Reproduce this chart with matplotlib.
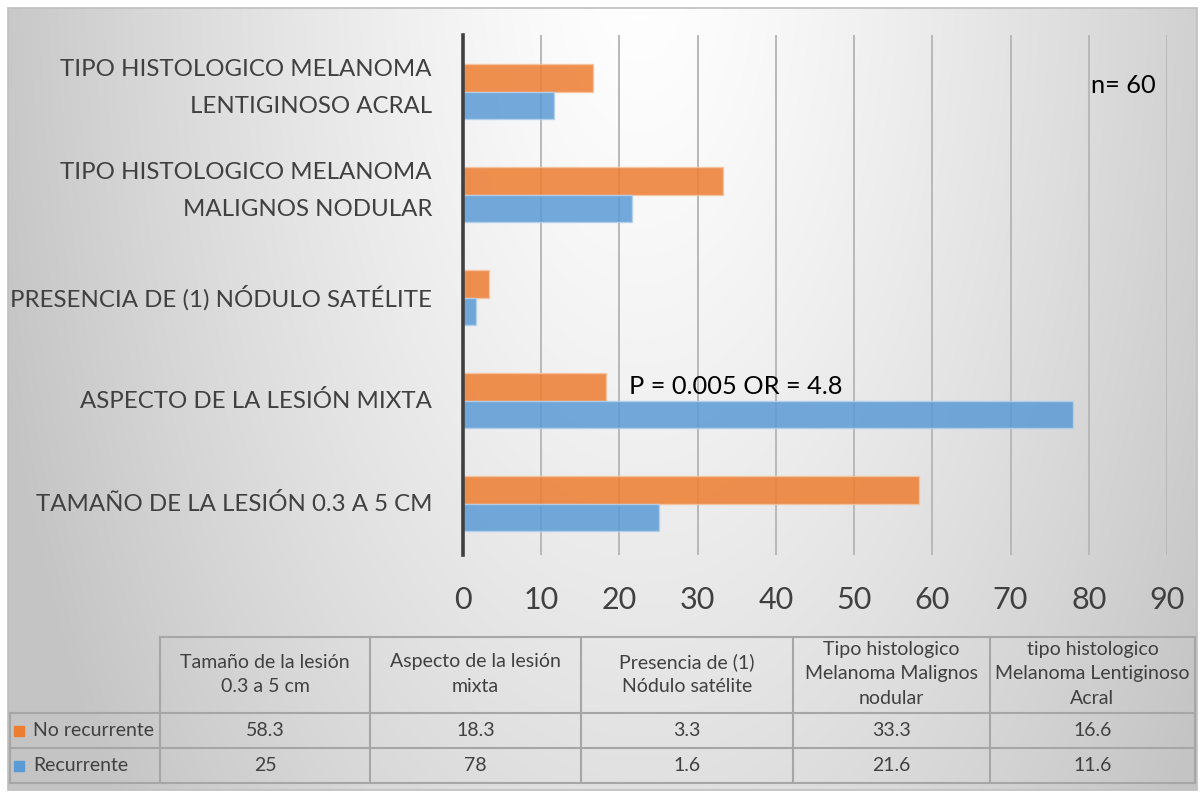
import numpy as np
import matplotlib
matplotlib.use("Agg")
import matplotlib.pyplot as plt
from matplotlib.patches import Rectangle
from matplotlib.transforms import ScaledTranslation

# ---------------- data ----------------
axis_labels = ["TAMAÑO DE LA LESIÓN 0.3 A 5 CM",
               "ASPECTO DE LA LESIÓN MIXTA",
               "PRESENCIA DE (1) NÓDULO SATÉLITE",
               "TIPO HISTOLOGICO MELANOMA\nMALIGNOS NODULAR",
               "TIPO HISTOLOGICO MELANOMA\nLENTIGINOSO ACRAL"]
table_headers = ["Tamaño de la lesión\n0.3 a 5 cm",
                 "Aspecto de la lesión\nmixta",
                 "Presencia de (1)\nNódulo satélite",
                 "Tipo histologico\nMelanoma Malignos\nnodular",
                 "tipo histologico\nMelanoma Lentiginoso\nAcral"]
series_names = ["No recurrente", "Recurrente"]
no_recurrente = [58.3, 18.3, 3.3, 33.3, 16.6]
recurrente = [25, 78, 1.6, 21.6, 11.6]
x_ticks = [0, 10, 20, 30, 40, 50, 60, 70, 80, 90]
annotation_text = "P = 0.005 OR = 4.8"
n_text = "n= 60"

ORANGE = "#ED7D31"
BLUE = "#5B9BD5"
FONT = "Lato"
TXT = "#404040"

W, H = 1202, 794
fig = plt.figure(figsize=(W / 100, H / 100), dpi=100)
fig.patch.set_facecolor("white")

# ---------------- background (pixel coords) ----------------
bg = fig.add_axes([0, 0, 1, 1])
bg.set_xlim(0, W)
bg.set_ylim(H, 0)
bg.axis("off")
yy, xx = np.mgrid[0:H, 0:W]
d = np.sqrt(((xx - 640) / 610.0) ** 2 + ((yy + 40) / 1250.0) ** 2)
val = np.clip(255 - 52 * d ** 1.3, 196, 255) / 255.0
img = np.dstack([val, val, val])
L, T, R, B = 8, 8, 1197, 790
bg.imshow(img[T:B, L:R], extent=(L, R, B, T), zorder=0, aspect="auto")
bg.add_patch(Rectangle((L, T), R - L, B - T, fill=False, ec="#bfbfbf", lw=1.2, zorder=1))

# ---------------- table ----------------
col_x = [10, 160, 370, 581, 793, 990, 1195]
row_y = [637, 713, 748, 783]
lc = "#a6a6a6"
tlw = 1.5
bg.plot([col_x[1], col_x[-1]], [row_y[0], row_y[0]], color=lc, lw=tlw, zorder=2)
for yv in row_y[1:]:
    bg.plot([col_x[0], col_x[-1]], [yv, yv], color=lc, lw=tlw, zorder=2)
for i, xv in enumerate(col_x):
    y0 = row_y[0] if i >= 1 else row_y[1]
    bg.plot([xv, xv], [y0, row_y[-1]], color=lc, lw=tlw, zorder=2)
for j, h in enumerate(table_headers):
    cx = (col_x[j + 1] + col_x[j + 2]) / 2
    bg.text(cx, (row_y[0] + row_y[1]) / 2 - 1, h, ha="center", va="center",
            fontsize=14, family=FONT, color=TXT, linespacing=1.5, zorder=3)
for r, (name, vals, col) in enumerate([(series_names[0], no_recurrente, ORANGE),
                                       (series_names[1], recurrente, BLUE)]):
    cy = (row_y[r + 1] + row_y[r + 2]) / 2
    bg.add_patch(Rectangle((14, cy - 5), 10, 10, color=col, zorder=3))
    bg.text(33, cy, name, ha="left", va="center", fontsize=14, family=FONT,
            color=TXT, zorder=3)
    for j, v in enumerate(vals):
        cx = (col_x[j + 1] + col_x[j + 2]) / 2
        bg.text(cx, cy, f"{v:g}", ha="center", va="center", fontsize=14,
                family=FONT, color=TXT, zorder=3)

# ---------------- main bar chart ----------------
x0, x1 = 463, 1167
ytop, ybot = 35, 555
ax = fig.add_axes([x0 / W, 1 - ybot / H, (x1 - x0) / W, (ybot - ytop) / H])
ax.set_facecolor("none")
pos = np.arange(len(axis_labels))
bh = 0.27
ax.barh(pos + bh / 2, no_recurrente, height=bh, color=ORANGE, alpha=0.85,
        edgecolor="#f6c3a0", linewidth=1.0, zorder=3)
ax.barh(pos - bh / 2, recurrente, height=bh, color=BLUE, alpha=0.85,
        edgecolor="#b3d0ec", linewidth=1.0, zorder=3)
ax.set_xlim(0, 90)
ax.set_ylim(-0.5, 4.55)
ax.set_xticks(x_ticks)
ax.set_xticklabels([str(t) for t in x_ticks], fontsize=22, family=FONT, color=TXT)
ax.set_yticks(pos)
ax.set_yticklabels([])
ytrans = ax.get_yaxis_transform()
for p, lab in zip(pos, axis_labels):
    dy = 4 if "\n" in lab else 0
    tr = ytrans + ScaledTranslation(-31 / 100, dy / 100, fig.dpi_scale_trans)
    ax.text(0, p, lab, transform=tr, ha="right", va="center", fontsize=17.3,
            family=FONT, color=TXT, linespacing=1.95, clip_on=False)
ax.tick_params(axis="both", length=0)
ax.tick_params(axis="x", pad=22)
ax.grid(axis="x", color="#b8b8b8", lw=1.4, zorder=1)
ax.grid(axis="y", visible=False)
for s in ["top", "right", "bottom"]:
    ax.spines[s].set_visible(False)
ax.spines["left"].set_color("#404040")
ax.spines["left"].set_linewidth(2.6)
ax.spines["left"].set_zorder(4)

ax.text(21.2, 1 + bh / 2, annotation_text, ha="left", va="center",
        fontsize=18.3, family=FONT, color="black", zorder=5)
ax.text(80.3, 4.06, n_text, ha="left", va="center",
        fontsize=18.3, family=FONT, color="black", zorder=5)

fig.savefig("out.png", dpi=100)
